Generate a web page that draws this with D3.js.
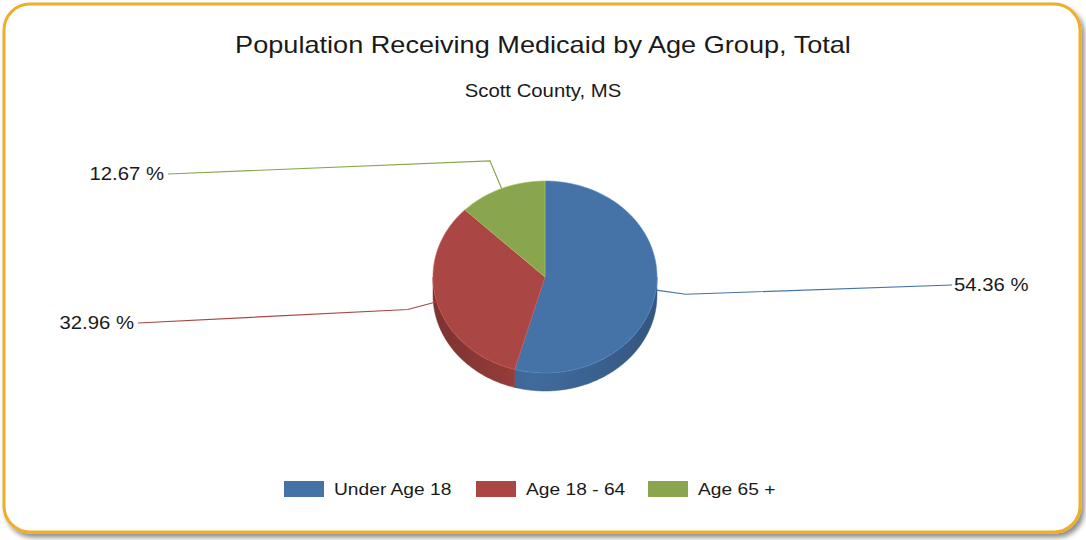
<!DOCTYPE html>
<html>
<head>
<meta charset="utf-8">
<script src="https://cdn.jsdelivr.net/npm/d3@7"></script>
<style>
  html, body { margin: 0; padding: 0; background: #ffffff; }
  svg { display: block; font-family: "Liberation Sans", Arial, sans-serif; }
</style>
</head>
<body>
<svg id="chart" width="1086" height="540"></svg>
<script>
// Data
const categories = ["Under Age 18", "Age 18 - 64", "Age 65 +"];
const shares = [54.36, 32.96, 12.67];
const colors = ["#4572a7", "#aa4643", "#89a54e"];
const sideColors = ["#3b6290", "#8d3a37", "#6f8a3f"];

// Layout
const W = 1086, H = 540;
const cx = 545, cy = 277, rx = 112, ry = 96, depth = 18;
const stretch = 1.13; // horizontal widening of all chart text
// label anchor for each slice (side, y of the text centre, x of the line end)
const labelLayout = [
  { side: "right", x: 952, y: 285 },
  { side: "left",  x: 138, y: 323 },
  { side: "left",  x: 168, y: 174 }
];

const svg = d3.select("#chart");
const defs = svg.append("defs");

// widened text helper
function addText(parent, x, y, size, anchor, str, dy) {
  return parent.append("text")
    .attr("transform", `translate(${x},${y}) scale(${stretch},1)`)
    .attr("text-anchor", anchor)
    .attr("dy", dy || 0)
    .attr("font-size", size)
    .attr("fill", "#1a1a1a")
    .text(str);
}

// drop shadow for the frame
const sh = defs.append("filter").attr("id", "shadow").attr("x", "-5%").attr("y", "-5%").attr("width", "110%").attr("height", "115%");
sh.append("feGaussianBlur").attr("in", "SourceAlpha").attr("stdDeviation", 2.5);
sh.append("feOffset").attr("dx", 3).attr("dy", 4).attr("result", "ob");
sh.append("feComponentTransfer").append("feFuncA").attr("type", "linear").attr("slope", 0.45);
const mg = sh.append("feMerge");
mg.append("feMergeNode");
mg.append("feMergeNode").attr("in", "SourceGraphic");

svg.append("rect")
  .attr("x", 4).attr("y", 4).attr("width", 1076).attr("height", 528)
  .attr("rx", 26).attr("ry", 26)
  .attr("fill", "#ffffff")
  .attr("stroke", "#efae2b").attr("stroke-width", 3)
  .attr("filter", "url(#shadow)");

// Titles
addText(svg, 543, 53, 24, "middle", "Population Receiving Medicaid by Age Group, Total");
addText(svg, 543, 97, 18, "middle", "Scott County, MS");

// Pie layout: clockwise from 12 o'clock, original order
const pie = d3.pie().sort(null).value(d => d.v).startAngle(0).endAngle(2 * Math.PI);
const arcs = pie(shares.map((v, i) => ({ v, i })));

const ex = a => cx + rx * Math.sin(a);
const ey = a => cy - ry * Math.cos(a);

function ellipseArc(a0, a1, dy) {
  const n = Math.max(2, Math.ceil(Math.abs(a1 - a0) / 0.02));
  const pts = [];
  for (let k = 0; k <= n; k++) {
    const a = a0 + (a1 - a0) * k / n;
    pts.push([ex(a), ey(a) + dy]);
  }
  return pts;
}

// side gradients
arcs.forEach((d, i) => {
  const g = defs.append("linearGradient").attr("id", "side" + i)
    .attr("gradientUnits", "userSpaceOnUse")
    .attr("x1", cx - rx).attr("x2", cx + rx).attr("y1", 0).attr("y2", 0);
  const c = d3.color(sideColors[i]);
  g.append("stop").attr("offset", "0%").attr("stop-color", c.darker(0.35));
  g.append("stop").attr("offset", "45%").attr("stop-color", c.brighter(0.25));
  g.append("stop").attr("offset", "100%").attr("stop-color", c.darker(0.35));
});

const pieG = svg.append("g");
const line = d3.line();

// front walls: only the part of each slice between 90deg and 270deg faces the viewer
arcs.forEach((d, i) => {
  const a0 = Math.max(d.startAngle, Math.PI / 2);
  const a1 = Math.min(d.endAngle, 3 * Math.PI / 2);
  if (a1 <= a0) return;
  const top = ellipseArc(a0, a1, 0);
  const bottom = ellipseArc(a1, a0, depth);
  pieG.append("path")
    .attr("d", line(top.concat(bottom)) + "Z")
    .attr("fill", `url(#side${i})`)
    .attr("stroke", d3.color(sideColors[i]).darker(0.2)).attr("stroke-width", 0.5);
});

// top faces
arcs.forEach((d, i) => {
  const pts = [[cx, cy]].concat(ellipseArc(d.startAngle, d.endAngle, 0));
  pieG.append("path")
    .attr("d", line(pts) + "Z")
    .attr("fill", colors[i])
    .attr("stroke", d3.color(colors[i]).brighter(0.6)).attr("stroke-width", 0.6)
    .attr("stroke-linejoin", "round");
});

// leader lines and value labels
const fmt = v => d3.format(".2f")(v) + " %";
arcs.forEach((d, i) => {
  const mid = (d.startAngle + d.endAngle) / 2;
  const p0 = [ex(mid), ey(mid)];
  const p1 = [p0[0] + 30 * Math.sin(mid), p0[1] - 30 * Math.cos(mid)];
  const L = labelLayout[i];
  const p2 = [L.x, L.y];
  svg.append("path")
    .attr("d", line([p0, p1, p2]))
    .attr("fill", "none")
    .attr("stroke", colors[i]).attr("stroke-width", 1.2);
  addText(svg, L.side === "right" ? L.x + 2 : L.x - 4, L.y, 18,
    L.side === "right" ? "start" : "end", fmt(d.data.v), "0.36em");
});

// legend
const legendX = [284, 476, 648];
const leg = svg.append("g");
categories.forEach((c, i) => {
  leg.append("rect").attr("x", legendX[i]).attr("y", 481).attr("width", 40).attr("height", 16)
    .attr("fill", colors[i]);
  addText(leg, legendX[i] + 50, 489, 17, "start", c, "0.36em");
});
</script>
</body>
</html>
